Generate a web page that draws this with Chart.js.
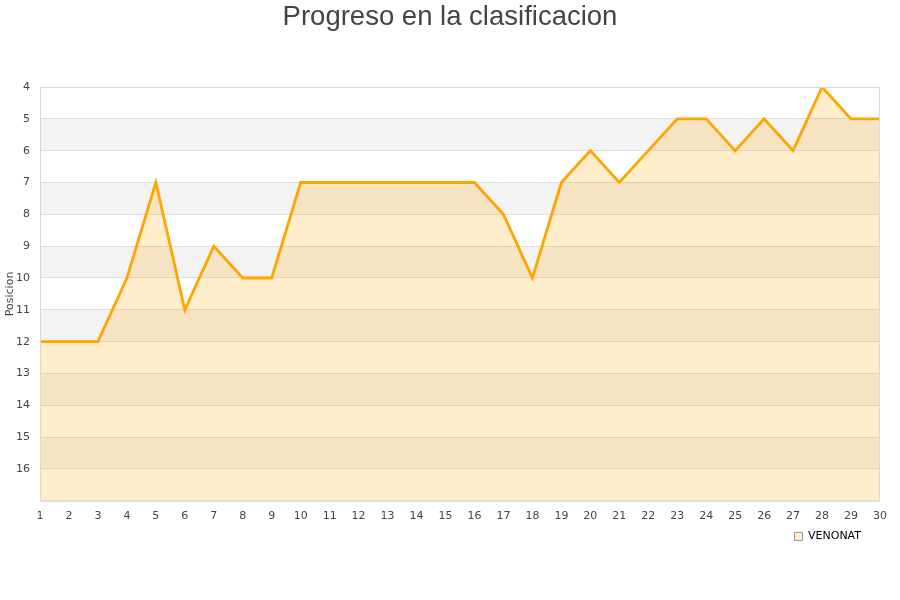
<!DOCTYPE html>
<html>
<head>
<meta charset="utf-8">
<script src="https://cdn.jsdelivr.net/npm/chart.js@4"></script>
<style>
  body { margin: 0; background: #fff; }
  #wrap { width: 900px; height: 600px; }
</style>
</head>
<body>
<div id="wrap"><canvas id="posChart"></canvas></div>
<script>
// jornadas y posiciones
const jornadas = [1, 2, 3, 4, 5, 6, 7, 8, 9, 10, 11, 12, 13, 14, 15, 16, 17, 18, 19, 20, 21, 22, 23, 24, 25, 26, 27, 28, 29, 30];
const posiciones = [12, 12, 12, 10, 7, 11, 9, 10, 10, 7, 7, 7, 7, 7, 7, 7, 8, 10, 7, 6, 7, 6, 5, 5, 6, 5, 6, 4, 5, 5];
const equipo = 'VENONAT';
const yMin = 4, yMax = 17;

// bandas alternas del fondo + marco
const bandas = {
    id: 'bandas',
    afterLayout(chart) {
        // leyenda un poco mas a la izquierda, titulo centrado en todo el ancho
        chart.legend.right -= 12;
        chart.titleBlock.right += 20;
    },
    beforeDraw(chart) {
        const { ctx, chartArea, scales } = chart;
        const y = scales.y;
        ctx.save();
        for (let v = yMin; v < yMax; v++) {
            const y1 = y.getPixelForValue(v);
            const y2 = y.getPixelForValue(v + 1);
            ctx.fillStyle = (v - yMin) % 2 === 0 ? '#ffffff' : '#f3f3f3';
            ctx.fillRect(chartArea.left, y1, chartArea.right - chartArea.left, y2 - y1);
        }
        ctx.restore();
    },
    afterDatasetsDraw(chart) {
        const { ctx, chartArea } = chart;
        ctx.save();
        ctx.strokeStyle = '#d9d9d9';
        ctx.lineWidth = 1;
        ctx.strokeRect(chartArea.left + 0.5, chartArea.top + 0.5, chartArea.right - chartArea.left - 1, chartArea.bottom - chartArea.top);
        ctx.restore();
    }
};

new Chart(posChart, {
    type: 'line',
    data: {
        labels: jornadas,
        datasets: [{
            label: equipo,
            data: posiciones,
            borderColor: '#ffa500',
            borderWidth: 2.8,
            backgroundColor: 'rgba(255,165,0,0.2)',
            fill: 'start',
            pointRadius: 0,
            tension: 0
        }]
    },
    options: {
        responsive: true,
        maintainAspectRatio: false,
        animation: false,
        layout: { padding: { left: 0, right: 20, top: 0, bottom: 48 } },
        plugins: {
            title: {
                display: true,
                text: 'Progreso en la clasificacion',
                color: '#444',
                font: { family: 'Liberation Sans', size: 27.5, weight: 'normal' },
                padding: { top: 1, bottom: 53 }
            },
            legend: {
                position: 'bottom',
                align: 'end',
                labels: {
                    boxWidth: 8,
                    boxHeight: 8,
                    padding: 7,
                    color: '#222',
                    font: { family: 'DejaVu Sans', size: 11 },
                    generateLabels(chart) {
                        return [{
                            text: equipo,
                            fillStyle: '#ffedcc',
                            strokeStyle: '#999',
                            lineWidth: 1,
                            datasetIndex: 0
                        }];
                    }
                }
            },
            tooltip: { enabled: false }
        },
        scales: {
            x: {
                offset: false,
                grid: { display: false },
                border: { display: false },
                ticks: { color: '#444', font: { family: 'DejaVu Sans', size: 11 }, maxRotation: 0, autoSkip: false, padding: 1 }
            },
            y: {
                reverse: true,
                min: yMin,
                max: yMax,
                afterFit(scale) { scale.width = 40; },
                grid: { color: '#dddddd', drawTicks: false },
                border: { display: false },
                ticks: {
                    stepSize: 1,
                    color: '#444',
                    padding: 10,
                    font: { family: 'DejaVu Sans', size: 11 },
                    callback: v => (v === yMax ? '' : v)
                },
                title: {
                    display: true,
                    text: 'Posicion',
                    color: '#444',
                    font: { family: 'DejaVu Sans', size: 11 },
                    padding: { top: 4, bottom: 0 }
                }
            }
        }
    },
    plugins: [bandas]
});
</script>
</body>
</html>
